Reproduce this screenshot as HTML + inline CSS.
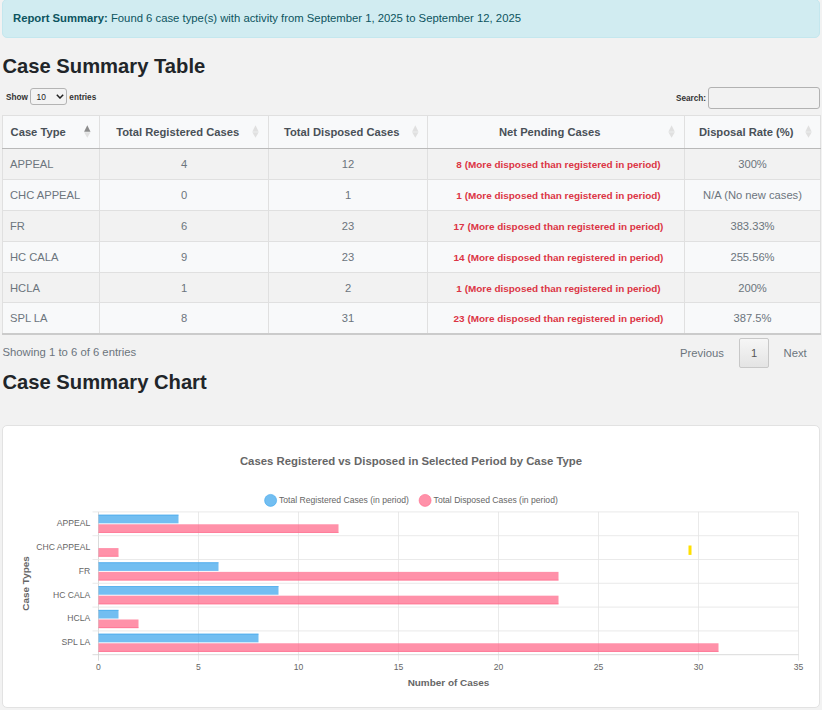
<!DOCTYPE html>
<html><head><meta charset="utf-8"><title>Case Summary</title>
<style>
*{box-sizing:border-box}
html,body{margin:0;padding:0;overflow:hidden}
body{width:822px;height:710px;overflow:hidden;position:relative;background:#f2f2f2;font-family:"Liberation Sans",Arial,Helvetica,sans-serif;color:#212529}
.abs{position:absolute}
.alert{left:2px;top:-1px;width:818px;height:39px;background:#d1ecf1;border:1px solid #c4e7ee;border-radius:5px;color:#0c5460;font-size:11.3px;line-height:16px;padding:10px 0 0 10px;white-space:nowrap}
.alert b{font-weight:bold}
h3{margin:0;font-weight:bold;font-size:20.2px;line-height:24px;color:#212529;position:absolute;white-space:nowrap}
.len{left:6px;top:92.5px;font-size:8.2px;font-weight:bold;color:#333;white-space:nowrap}
.sel{position:absolute;left:30px;top:88px;width:37px;height:17px;border:1px solid #b4b4b4;border-radius:3px;background:#f3f3f3}
.sel span{position:absolute;left:5.5px;top:3.3px;font-size:8.4px;font-weight:normal;color:#222}
.sel svg{position:absolute;left:25px;top:5.3px}
.srch{left:676px;top:94.3px;font-size:8.2px;font-weight:bold;color:#333}
.inp{left:708px;top:87px;width:112px;height:22px;border:1px solid #b2b2b2;border-radius:3px;background:#f2f2f2}
table{position:absolute;left:2px;top:115px;width:818px;border-collapse:collapse;table-layout:fixed;font-size:11.2px}
th,td{border:1px solid #e0e0e0;padding:0;text-align:center;vertical-align:middle;white-space:nowrap}
th{height:33px;padding:0 21px 0 8.4px;background:#f8f9fa;color:#495057;font-weight:bold;position:relative;border-bottom:1px solid #b9b9b9}
td{height:30.9px;color:#6c757d}
tbody tr:nth-child(odd) td{background:#f2f2f2}
tbody tr:nth-child(even) td{background:#f8f9fa}
td.l{text-align:left;padding-left:7px}
th.l{text-align:left;padding-left:7.6px}
td.r{color:#dc3545;font-weight:bold;font-size:9.95px;padding-left:5px;padding-top:1.6px}
tbody tr:last-child td{border-bottom:2px solid #cbcbcb}
.si{position:absolute;top:10px;width:7px;height:12px}
.info{left:2.5px;top:346px;font-size:11.3px;color:#6c757d;white-space:nowrap}
.pg{font-size:11.3px;color:#6c757d;white-space:nowrap}
.cur{left:739px;top:338px;width:30px;height:30px;border:1px solid #c8c8c8;border-radius:2px;background:linear-gradient(#f6f6f6,#e4e4e4);text-align:center;line-height:28px;font-size:11.2px;color:#555}
.card{left:2px;top:425px;width:818px;height:283px;background:#fff;border:1px solid #e2e2e2;border-radius:5px}
svg text{font-family:"Liberation Sans",Arial,Helvetica,sans-serif}
</style></head>
<body>
<div class="abs alert"><b>Report Summary:</b> Found 6 case type(s) with activity from September 1, 2025 to September 12, 2025</div>

<h3 style="left:2.5px;top:54px">Case Summary Table</h3>

<div class="abs len">Show<span style="display:inline-block;width:41.5px"></span>entries</div>
<div class="sel"><span>10</span><svg width="8" height="5" viewBox="0 0 8 5"><path d="M0.8 0.8 L4 4 L7.2 0.8" fill="none" stroke="#222" stroke-width="1.5"/></svg></div>
<div class="abs srch">Search:</div>
<div class="abs inp"></div>

<table>
<colgroup><col style="width:97px"><col style="width:169px"><col style="width:159px"><col style="width:257px"><col style="width:136px"></colgroup>
<thead><tr>
<th class="l">Case Type</th>
<th>Total Registered Cases</th>
<th>Total Disposed Cases</th>
<th>Net Pending Cases</th>
<th>Disposal Rate (%)</th>
</tr></thead>
<tbody>
<tr><td class="l">APPEAL</td><td>4</td><td>12</td><td class="r">8 (More disposed than registered in period)</td><td>300%</td></tr>
<tr><td class="l">CHC APPEAL</td><td>0</td><td>1</td><td class="r">1 (More disposed than registered in period)</td><td>N/A (No new cases)</td></tr>
<tr><td class="l">FR</td><td>6</td><td>23</td><td class="r">17 (More disposed than registered in period)</td><td>383.33%</td></tr>
<tr><td class="l">HC CALA</td><td>9</td><td>23</td><td class="r">14 (More disposed than registered in period)</td><td>255.56%</td></tr>
<tr><td class="l">HCLA</td><td>1</td><td>2</td><td class="r">1 (More disposed than registered in period)</td><td>200%</td></tr>
<tr><td class="l">SPL LA</td><td>8</td><td>31</td><td class="r">23 (More disposed than registered in period)</td><td>387.5%</td></tr>
</tbody>
</table>

<svg class="abs" style="left:0;top:0" width="822" height="150" viewBox="0 0 822 150"><path d="M87.30 125.2 L90.50 131.7 L84.10 131.7Z" fill="#8c8c8c"/><path d="M87.30 137.7 L90.50 132.3 L84.10 132.3Z" fill="#e0e0e0"/><path d="M255.50 125.2 L258.70 131.7 L252.30 131.7Z" fill="#e0e0e0"/><path d="M255.50 137.7 L258.70 132.3 L252.30 132.3Z" fill="#e0e0e0"/><path d="M415.30 125.2 L418.50 131.7 L412.10 131.7Z" fill="#e0e0e0"/><path d="M415.30 137.7 L418.50 132.3 L412.10 132.3Z" fill="#e0e0e0"/><path d="M671.60 125.2 L674.80 131.7 L668.40 131.7Z" fill="#e0e0e0"/><path d="M671.60 137.7 L674.80 132.3 L668.40 132.3Z" fill="#e0e0e0"/><path d="M808.50 125.2 L811.70 131.7 L805.30 131.7Z" fill="#e0e0e0"/><path d="M808.50 137.7 L811.70 132.3 L805.30 132.3Z" fill="#e0e0e0"/></svg>
<div class="abs info">Showing 1 to 6 of 6 entries</div>
<div class="abs pg" style="left:680px;top:346.5px">Previous</div>
<div class="abs cur">1</div>
<div class="abs pg" style="left:783.5px;top:346.5px">Next</div>

<h3 style="left:2.5px;top:369.5px">Case Summary Chart</h3>

<div class="abs card"></div>
<svg class="abs" style="left:0;top:0" width="822" height="710" viewBox="0 0 822 710" id="chart">
<line x1="98.50" y1="511.90" x2="98.50" y2="660.70" stroke="#d0d0d0" stroke-width="0.8"/>
<line x1="198.50" y1="511.90" x2="198.50" y2="660.70" stroke="#e5e5e5" stroke-width="0.8"/>
<line x1="298.50" y1="511.90" x2="298.50" y2="660.70" stroke="#e5e5e5" stroke-width="0.8"/>
<line x1="398.50" y1="511.90" x2="398.50" y2="660.70" stroke="#e5e5e5" stroke-width="0.8"/>
<line x1="498.50" y1="511.90" x2="498.50" y2="660.70" stroke="#e5e5e5" stroke-width="0.8"/>
<line x1="598.50" y1="511.90" x2="598.50" y2="660.70" stroke="#e5e5e5" stroke-width="0.8"/>
<line x1="698.50" y1="511.90" x2="698.50" y2="660.70" stroke="#e5e5e5" stroke-width="0.8"/>
<line x1="798.50" y1="511.90" x2="798.50" y2="660.70" stroke="#e5e5e5" stroke-width="0.8"/>
<line x1="92.50" y1="511.90" x2="798.50" y2="511.90" stroke="#e5e5e5" stroke-width="0.8"/>
<line x1="92.50" y1="535.70" x2="798.50" y2="535.70" stroke="#e5e5e5" stroke-width="0.8"/>
<line x1="92.50" y1="559.50" x2="798.50" y2="559.50" stroke="#e5e5e5" stroke-width="0.8"/>
<line x1="92.50" y1="583.30" x2="798.50" y2="583.30" stroke="#e5e5e5" stroke-width="0.8"/>
<line x1="92.50" y1="607.10" x2="798.50" y2="607.10" stroke="#e5e5e5" stroke-width="0.8"/>
<line x1="92.50" y1="630.90" x2="798.50" y2="630.90" stroke="#e5e5e5" stroke-width="0.8"/>
<line x1="92.50" y1="654.70" x2="798.50" y2="654.70" stroke="#d0d0d0" stroke-width="0.8"/>
<rect x="98.50" y="514.76" width="80.00" height="8.57" fill="rgba(54,162,235,0.7)"/>
<path d="M98.50 515.11 H178.50" fill="none" stroke="rgba(54,162,235,0.8)" stroke-width="0.7"/>
<rect x="98.50" y="524.28" width="240.00" height="8.57" fill="rgba(255,99,132,0.7)"/>
<path d="M338.50 532.49 H98.50" fill="none" stroke="rgba(255,99,132,0.8)" stroke-width="0.7"/>
<text x="90.3" y="526.10" text-anchor="end" font-size="8.6" fill="#666">APPEAL</text>
<rect x="98.50" y="548.08" width="20.00" height="8.57" fill="rgba(255,99,132,0.7)"/>
<path d="M118.50 556.29 H98.50" fill="none" stroke="rgba(255,99,132,0.8)" stroke-width="0.7"/>
<text x="90.3" y="549.90" text-anchor="end" font-size="8.6" fill="#666">CHC APPEAL</text>
<rect x="98.50" y="562.36" width="120.00" height="8.57" fill="rgba(54,162,235,0.7)"/>
<path d="M98.50 562.71 H218.50" fill="none" stroke="rgba(54,162,235,0.8)" stroke-width="0.7"/>
<rect x="98.50" y="571.88" width="460.00" height="8.57" fill="rgba(255,99,132,0.7)"/>
<path d="M558.50 580.09 H98.50" fill="none" stroke="rgba(255,99,132,0.8)" stroke-width="0.7"/>
<text x="90.3" y="573.70" text-anchor="end" font-size="8.6" fill="#666">FR</text>
<rect x="98.50" y="586.16" width="180.00" height="8.57" fill="rgba(54,162,235,0.7)"/>
<path d="M98.50 586.51 H278.50" fill="none" stroke="rgba(54,162,235,0.8)" stroke-width="0.7"/>
<rect x="98.50" y="595.68" width="460.00" height="8.57" fill="rgba(255,99,132,0.7)"/>
<path d="M558.50 603.89 H98.50" fill="none" stroke="rgba(255,99,132,0.8)" stroke-width="0.7"/>
<text x="90.3" y="597.50" text-anchor="end" font-size="8.6" fill="#666">HC CALA</text>
<rect x="98.50" y="609.96" width="20.00" height="8.57" fill="rgba(54,162,235,0.7)"/>
<path d="M98.50 610.31 H118.50" fill="none" stroke="rgba(54,162,235,0.8)" stroke-width="0.7"/>
<rect x="98.50" y="619.48" width="40.00" height="8.57" fill="rgba(255,99,132,0.7)"/>
<path d="M138.50 627.69 H98.50" fill="none" stroke="rgba(255,99,132,0.8)" stroke-width="0.7"/>
<text x="90.3" y="621.30" text-anchor="end" font-size="8.6" fill="#666">HCLA</text>
<rect x="98.50" y="633.76" width="160.00" height="8.57" fill="rgba(54,162,235,0.7)"/>
<path d="M98.50 634.11 H258.50" fill="none" stroke="rgba(54,162,235,0.8)" stroke-width="0.7"/>
<rect x="98.50" y="643.28" width="620.00" height="8.57" fill="rgba(255,99,132,0.7)"/>
<path d="M718.50 651.49 H98.50" fill="none" stroke="rgba(255,99,132,0.8)" stroke-width="0.7"/>
<text x="90.3" y="645.10" text-anchor="end" font-size="8.6" fill="#666">SPL LA</text>
<text x="98.50" y="670.1" text-anchor="middle" font-size="8.6" fill="#666">0</text>
<text x="198.50" y="670.1" text-anchor="middle" font-size="8.6" fill="#666">5</text>
<text x="298.50" y="670.1" text-anchor="middle" font-size="8.6" fill="#666">10</text>
<text x="398.50" y="670.1" text-anchor="middle" font-size="8.6" fill="#666">15</text>
<text x="498.50" y="670.1" text-anchor="middle" font-size="8.6" fill="#666">20</text>
<text x="598.50" y="670.1" text-anchor="middle" font-size="8.6" fill="#666">25</text>
<text x="698.50" y="670.1" text-anchor="middle" font-size="8.6" fill="#666">30</text>
<text x="798.50" y="670.1" text-anchor="middle" font-size="8.6" fill="#666">35</text>
<text x="448.5" y="686.4" text-anchor="middle" font-size="9.95" font-weight="bold" fill="#666">Number of Cases</text>
<text transform="translate(28.6 583.4) rotate(-90)" x="0" y="0" text-anchor="middle" font-size="9.95" font-weight="bold" fill="#666">Case Types</text>
<text x="411" y="465.3" text-anchor="middle" font-size="11.35" font-weight="bold" fill="#666">Cases Registered vs Disposed in Selected Period by Case Type</text>
<circle cx="270.6" cy="500.4" r="6" fill="rgba(54,162,235,0.7)" stroke="rgba(54,162,235,0.8)" stroke-width="0.7"/>
<text x="279" y="503" font-size="8.6" fill="#666">Total Registered Cases (in period)</text>
<circle cx="425.1" cy="500.4" r="6" fill="rgba(255,99,132,0.7)" stroke="rgba(255,99,132,0.8)" stroke-width="0.7"/>
<text x="433.6" y="503" font-size="8.6" fill="#666">Total Disposed Cases (in period)</text>
<rect x="688.5" y="545.5" width="3" height="9.4" fill="#ffe000"/>
</svg>
</body></html>
